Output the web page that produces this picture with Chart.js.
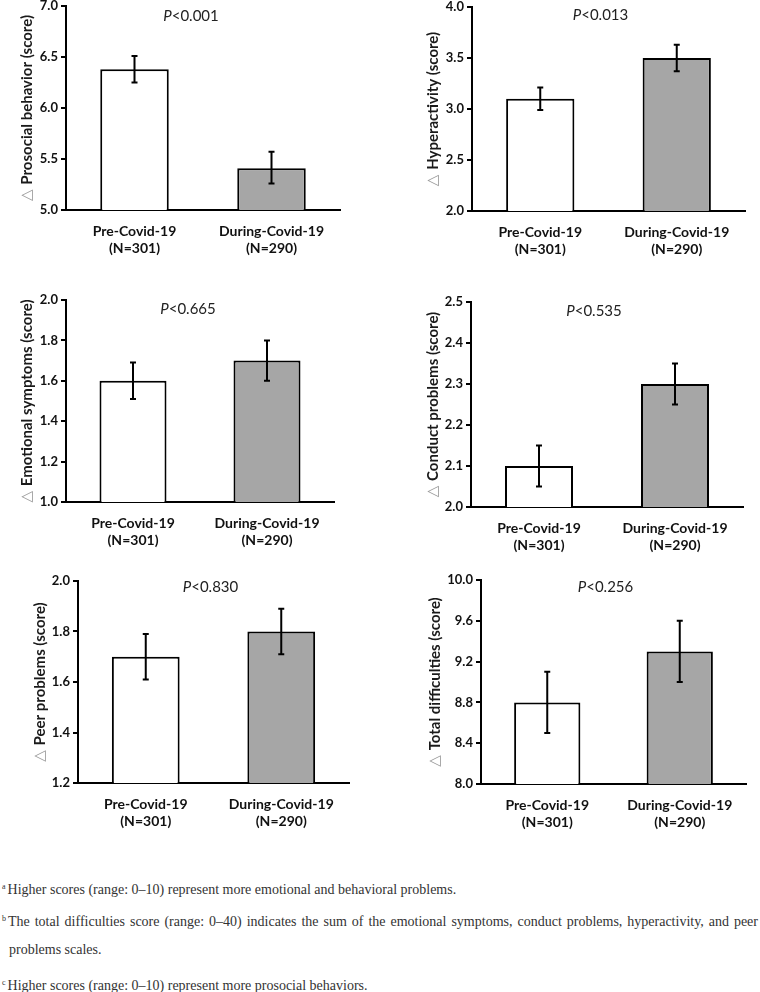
<!DOCTYPE html>
<html>
<head>
<meta charset="utf-8">
<script src="https://cdn.jsdelivr.net/npm/chart.js@4.4.1/dist/chart.umd.min.js"></script>
<style>
  body { margin: 0; background: #fff; width: 760px; height: 992px; position: relative; overflow: hidden; }
  .panel { position: absolute; }
  .note { position: absolute; left: 2px; font-family: "Liberation Serif", "Times New Roman", serif; font-size: 14px; color: #333; white-space: nowrap; line-height: 18px; }
  .note sup { font-size: 8px; vertical-align: 5px; margin-right: 2px; }
  .justify { width: 756px; white-space: normal; text-align: justify; text-align-last: justify; }
</style>
</head>
<body>
<canvas id="p1" class="panel"></canvas>
<canvas id="p2" class="panel"></canvas>
<canvas id="p3" class="panel"></canvas>
<canvas id="p4" class="panel"></canvas>
<canvas id="p5" class="panel"></canvas>
<canvas id="p6" class="panel"></canvas>

<div class="note" style="top:878px"><sup>a</sup>Higher scores (range: 0–10) represent more emotional and behavioral problems.</div>
<div class="note justify" style="top:910px"><sup>b</sup>The total difficulties score (range: 0–40) indicates the sum of the emotional symptoms, conduct problems, hyperactivity, and peer</div>
<div class="note" style="top:941px; left:9px">problems scales.</div>
<div class="note" style="top:974px"><sup>c</sup>Higher scores (range: 0–10) represent more prosocial behaviors.</div>

<script>
// categories shared by all six panels
const categories = [['Pre-Covid-19', '(N=301)'], ['During-Covid-19', '(N=290)']];

// mean, lower and upper error values (pre, during)
const prosocialMean = [6.38, 5.41];
const prosocialLow  = [6.25, 5.26];
const prosocialHigh = [6.51, 5.57];

const hyperMean = [3.10, 3.50];
const hyperLow  = [2.99, 3.37];
const hyperHigh = [3.21, 3.63];

const emotionalMean = [1.60, 1.70];
const emotionalLow  = [1.51, 1.60];
const emotionalHigh = [1.69, 1.80];

const conductMean = [2.10, 2.30];
const conductLow  = [2.05, 2.25];
const conductHigh = [2.15, 2.35];

const peerMean = [1.70, 1.80];
const peerLow  = [1.61, 1.71];
const peerHigh = [1.79, 1.89];

const totalMean = [8.80, 9.30];
const totalLow  = [8.50, 9.00];
const totalHigh = [9.10, 9.60];

// y axis: min, max, step
const prosocialTicks = [5.0, 7.0, 0.5];
const hyperTicks     = [2.0, 4.0, 0.5];
const emotionalTicks = [1.0, 2.0, 0.2];
const conductTicks   = [2.0, 2.5, 0.1];
const peerTicks      = [1.2, 2.0, 0.2];
const totalTicks     = [8.0, 10.0, 0.4];

const yTitles = ['Prosocial behavior (score)', 'Hyperactivity (score)', 'Emotional symptoms (score)',
                 'Conduct problems (score)', 'Peer problems (score)', 'Total difficulties (score)'];
const pValues = ['<0.001', '<0.013', '<0.665', '<0.535', '<0.830', '<0.256'];

Chart.defaults.font.family = "Lato, 'Open Sans', sans-serif";
Chart.defaults.color = '#111';
Chart.defaults.animation = false;

// Draws the vertical error bars with small caps
const errorBars = {
  id: 'errorBars',
  afterDatasetsDraw(chart, args, opts) {
    const { ctx } = chart;
    const y = chart.scales.y;
    ctx.save();
    ctx.strokeStyle = '#000';
    ctx.lineWidth = 2;
    chart.getDatasetMeta(0).data.forEach((bar, i) => {
      const top = y.getPixelForValue(opts.high[i]);
      const bot = y.getPixelForValue(opts.low[i]);
      ctx.beginPath();
      ctx.moveTo(bar.x, top); ctx.lineTo(bar.x, bot);
      ctx.moveTo(bar.x - 3, top); ctx.lineTo(bar.x + 3, top);
      ctx.moveTo(bar.x - 3, bot); ctx.lineTo(bar.x + 3, bot);
      ctx.stroke();
    });
    ctx.restore();
  }
};

// "P<0.xxx" note near the top of the plot, P in italics
const pNote = {
  id: 'pNote',
  afterDraw(chart, args, opts) {
    const { ctx, chartArea } = chart;
    ctx.save();
    ctx.fillStyle = '#222';
    ctx.textBaseline = 'middle';
    ctx.font = "italic 15px Lato";
    const wP = ctx.measureText('P').width;
    ctx.font = "15px Lato";
    const wR = ctx.measureText(opts.text).width;
    const cx = (chartArea.left + chartArea.right) / 2 + opts.dx;
    const x0 = cx - (wP + wR) / 2;
    const y0 = chartArea.top + opts.dy;
    ctx.font = "italic 15px Lato";
    ctx.fillText('P', x0, y0);
    ctx.font = "15px Lato";
    ctx.fillText(opts.text, x0 + wP, y0);
    ctx.restore();
  }
};

// Rotated y title with a grey triangle in front
const yTitle = {
  id: 'yTitle',
  afterDraw(chart, args, opts) {
    const { ctx, chartArea } = chart;
    ctx.save();
    ctx.translate(opts.x, (chartArea.top + chartArea.bottom) / 2);
    ctx.rotate(-Math.PI / 2);
    ctx.textBaseline = 'middle';
    ctx.font = "15px 'DejaVu Sans'";
    const tri = '\u25B3 ';
    const wT = ctx.measureText(tri).width;
    ctx.font = "bold 15px Lato";
    const wS = ctx.measureText(opts.text).width;
    const x0 = -(wT + wS) / 2;
    ctx.font = "15px 'DejaVu Sans'";
    ctx.fillStyle = '#999';
    ctx.fillText(tri, x0, 0);
    ctx.font = "bold 15px Lato";
    ctx.fillStyle = '#1a1a1a';
    ctx.fillText(opts.text, x0 + wT, 0);
    ctx.restore();
  }
};

function makePanel(id, box, mean, low, high, ticks, title, pText) {
  const pad = 12;
  const canvas = document.getElementById(id);
  const w = 380;
  const h = pad + (box.bottom - box.top) + 50;
  canvas.width = w; canvas.height = h;
  canvas.style.left = box.col + 'px';
  canvas.style.top = (box.top - pad) + 'px';
  canvas.style.width = w + 'px';
  canvas.style.height = h + 'px';

  new Chart(canvas, {
    type: 'bar',
    data: {
      labels: categories,
      datasets: [{
        data: mean,
        backgroundColor: ['#ffffff', '#a6a6a6'],
        borderColor: '#000',
        borderWidth: 2,
        borderSkipped: false,
        barPercentage: 0.5,
        categoryPercentage: 1.0
      }]
    },
    options: {
      responsive: false,
      devicePixelRatio: 1,
      layout: { padding: { top: pad, left: 0, bottom: 0, right: box.col + w - box.right } },
      plugins: {
        legend: { display: false },
        tooltip: { enabled: false },
        errorBars: { low: low, high: high },
        pNote: { text: pText, dx: box.pdx, dy: box.pdy },
        yTitle: { x: box.tx - box.col, text: title }
      },
      scales: {
        x: {
          grid: { display: false, drawTicks: false },
          border: { display: true, color: '#000', width: 2 },
          ticks: { padding: 13, color: '#111', font: { size: 14, weight: 'bold' } },
          afterFit(scale) { scale.height = 50; }
        },
        y: {
          min: ticks[0], max: ticks[1],
          grid: { drawOnChartArea: false, drawTicks: true, tickLength: 5, color: '#000', lineWidth: 2 },
          border: { display: true, color: '#000', width: 2 },
          ticks: {
            stepSize: ticks[2], padding: 3, color: '#111',
            font: { size: 13, weight: 'bold' },
            callback: v => Number(v).toFixed(1)
          },
          afterFit(scale) { scale.width = box.axis - box.col; }
        }
      }
    },
    plugins: [errorBars, pNote, yTitle]
  });
}

// plot boxes: column left, y-axis x, top, bottom, right edge, title x, P-note offsets
makePanel('p1', { col: 0,   axis: 66,  top: 6,   bottom: 210, right: 340, tx: 27,  pdx: -12, pdy: 10 },
  prosocialMean, prosocialLow, prosocialHigh, prosocialTicks, yTitles[0], pValues[0]);
makePanel('p2', { col: 380, axis: 472, top: 7,   bottom: 211, right: 745, tx: 433, pdx: -8,  pdy: 8 },
  hyperMean, hyperLow, hyperHigh, hyperTicks, yTitles[1], pValues[1]);
makePanel('p3', { col: 0,   axis: 66,  top: 300, bottom: 502, right: 334, tx: 27,  pdx: -12, pdy: 9 },
  emotionalMean, emotionalLow, emotionalHigh, emotionalTicks, yTitles[2], pValues[2]);
makePanel('p4', { col: 380, axis: 471, top: 302, bottom: 507, right: 743, tx: 433, pdx: -13, pdy: 9 },
  conductMean, conductLow, conductHigh, conductTicks, yTitles[3], pValues[3]);
makePanel('p5', { col: 0,   axis: 78,  top: 581, bottom: 783, right: 349, tx: 40,  pdx: -3,  pdy: 6 },
  peerMean, peerLow, peerHigh, peerTicks, yTitles[4], pValues[4]);
makePanel('p6', { col: 380, axis: 481, top: 580, bottom: 784, right: 746, tx: 435, pdx: -8,  pdy: 7 },
  totalMean, totalLow, totalHigh, totalTicks, yTitles[5], pValues[5]);
</script>
</body>
</html>
